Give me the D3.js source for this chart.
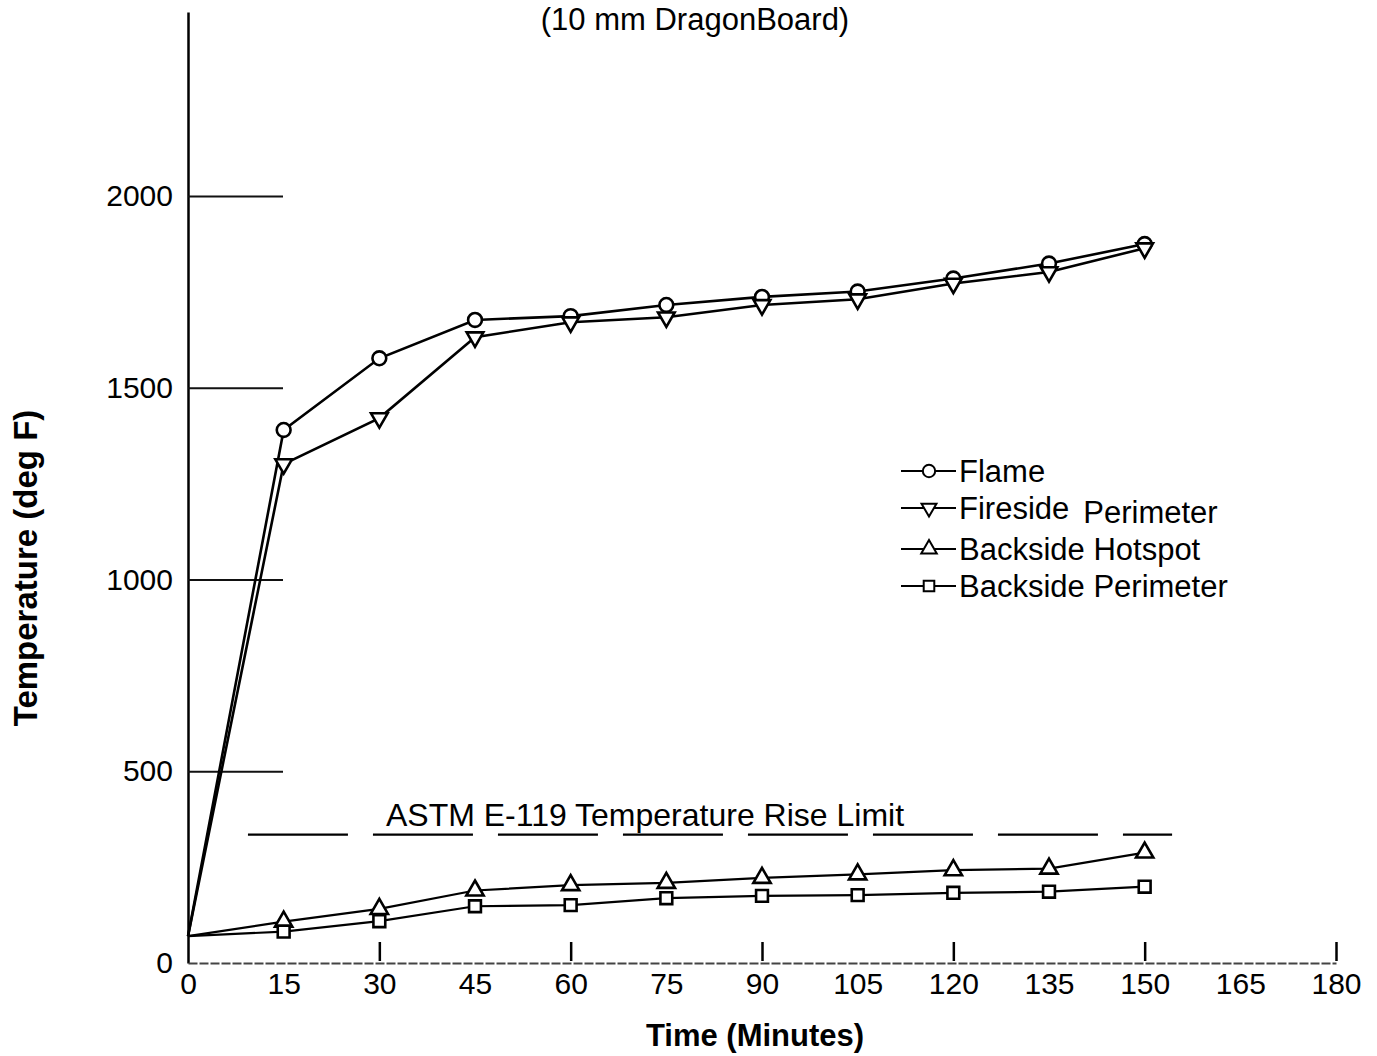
<!DOCTYPE html>
<html>
<head>
<meta charset="utf-8">
<script src="https://cdn.jsdelivr.net/npm/d3@7"></script>
<style>
  body { margin: 0; background: #fff; }
  svg { display: block; font-family: "Liberation Sans", Arial, sans-serif; }
</style>
</head>
<body>
<div id="chart"></div>
<script>
var times = [0, 15, 30, 45, 60, 75, 90, 105, 120, 135, 150];
var flame = [70, 1390, 1577, 1677, 1687, 1716, 1737, 1751, 1785, 1824, 1875];
var firesidePerimeter = [70, 1301, 1421, 1632, 1671, 1684, 1716, 1731, 1772, 1802, 1864];
var backsideHotspot = [70, 108, 141, 189, 203, 209, 222, 231, 242, 246, 288];
var backsidePerimeter = [70, 82, 109, 148, 151, 169, 175, 177, 183, 186, 199];
var seriesNames = ["Flame", "Fireside", "Backside Hotspot", "Backside Perimeter"];

var xTicks = [0, 15, 30, 45, 60, 75, 90, 105, 120, 135, 150, 165, 180];
var xMajorTicks = [30, 60, 90, 120, 150, 180];
var yTicks = [0, 500, 1000, 1500, 2000];

var astmLimit = 335;
var astmStart = 9.4, astmEnd = 154.3;

var width = 1377,
    height = 1056;

var x = d3.scaleLinear().domain([0, 180]).range([188, 1336]);
var y = d3.scaleLinear().domain([0, 2480]).range([963, 12]);

var svg = d3.select("#chart")
   .append("svg")
   .attr("width", width)
   .attr("height", height);

// title (its upper line is off the page in the original)
svg.append("text")
   .attr("x", 695)
   .attr("y", 30)
   .attr("text-anchor", "middle")
   .attr("font-size", 31)
   .text("(10 mm DragonBoard)");

// y axis
var yAxis = d3.axisLeft(y)
   .tickValues(yTicks)
   .tickFormat(d3.format("d"))
   .tickSizeInner(-95)
   .tickSizeOuter(0)
   .tickPadding(15);

var gy = svg.append("g")
   .attr("transform", "translate(" + x(0) + ",0)")
   .call(yAxis);
gy.select(".domain").attr("stroke", "#000").attr("stroke-width", 2.5);
gy.selectAll(".tick line")
   .attr("stroke", "#111")
   .attr("stroke-width", 2)
   .attr("visibility", function(d) { return d === 0 ? "hidden" : null; });
gy.selectAll(".tick text")
   .attr("font-size", 30)
   .attr("font-family", "Liberation Sans, Arial, sans-serif")
   .attr("fill", "#000");

// x axis: labels every 15, upward ticks every 30
var xAxis = d3.axisBottom(x)
   .tickValues(xTicks)
   .tickSize(0)
   .tickPadding(10);

var gx = svg.append("g")
   .attr("transform", "translate(0," + y(0) + ")")
   .call(xAxis);
gx.select(".domain").attr("stroke", "#444").attr("stroke-width", 1.8).attr("stroke-dasharray", "9,2");
gx.selectAll(".tick text")
   .attr("font-size", 30)
   .attr("font-family", "Liberation Sans, Arial, sans-serif")
   .attr("fill", "#000");

svg.append("g")
   .attr("transform", "translate(0," + (y(0) - 2) + ")")
   .call(d3.axisBottom(x).tickValues(xMajorTicks).tickSize(-19).tickFormat(""))
   .call(function(g) {
      g.select(".domain").remove();
      g.selectAll(".tick line").attr("stroke", "#000").attr("stroke-width", 2.5);
   });

// axis titles
svg.append("text")
   .attr("x", 755)
   .attr("y", 1046)
   .attr("text-anchor", "middle")
   .attr("font-size", 31)
   .attr("font-weight", "bold")
   .text("Time (Minutes)");

svg.append("text")
   .attr("transform", "translate(37,568) rotate(-90)")
   .attr("text-anchor", "middle")
   .attr("font-size", 33)
   .attr("font-weight", "bold")
   .text("Temperature (deg F)");

// ASTM limit
svg.append("line")
   .attr("x1", x(astmStart))
   .attr("x2", x(astmEnd))
   .attr("y1", y(astmLimit))
   .attr("y2", y(astmLimit))
   .attr("stroke", "#000")
   .attr("stroke-width", 2.2)
   .attr("stroke-dasharray", "100,25");

svg.append("text")
   .attr("x", 645)
   .attr("y", 826)
   .attr("text-anchor", "middle")
   .attr("font-size", 32)
   .text("ASTM E-119 Temperature Rise Limit");

// series
var series = [
   { name: seriesNames[0], values: flame, symbol: d3.symbolCircle, size: 150, rotate: 0 },
   { name: seriesNames[1], values: firesidePerimeter, symbol: d3.symbolTriangle, size: 120, rotate: 180 },
   { name: seriesNames[2], values: backsideHotspot, symbol: d3.symbolTriangle, size: 130, rotate: 0 },
   { name: seriesNames[3], values: backsidePerimeter, symbol: d3.symbolSquare, size: 140, rotate: 0 }
];

var line = d3.line()
   .x(function(d, i) { return x(times[i]); })
   .y(function(d) { return y(d); });

var sg = svg.selectAll("g.series")
   .data(series)
   .enter()
   .append("g")
   .attr("class", "series");

sg.append("path")
   .attr("d", function(s) { return line(s.values); })
   .attr("fill", "none")
   .attr("stroke", "#000")
   .attr("stroke-width", function(s, i) { return i < 2 ? 2.6 : 2.2; });

sg.each(function(s) {
   d3.select(this).selectAll("path.mark")
      .data(s.values.slice(1))
      .enter()
      .append("path")
      .attr("class", "mark")
      .attr("d", d3.symbol().type(s.symbol).size(s.size))
      .attr("transform", function(d, i) {
         return "translate(" + x(times[i + 1]) + "," + y(d) + ") rotate(" + s.rotate + ")";
      })
      .attr("fill", "#fff")
      .attr("stroke", "#000")
      .attr("stroke-width", 2.6);
});

// legend
var legend = svg.selectAll("g.legend")
   .data(series)
   .enter()
   .append("g")
   .attr("class", "legend")
   .attr("transform", function(d, i) {
      return "translate(0," + (471 + i * 37 + (i > 1 ? 4 : 0)) + ")";
   });

legend.append("line")
   .attr("x1", 901)
   .attr("x2", 956)
   .attr("stroke", "#000")
   .attr("stroke-width", 1.8);

legend.append("path")
   .attr("d", function(s) { return d3.symbol().type(s.symbol).size(s.size * 0.8)(); })
   .attr("transform", function(s) { return "translate(929,0) rotate(" + s.rotate + ")"; })
   .attr("fill", "#fff")
   .attr("stroke", "#000")
   .attr("stroke-width", 2);

var lt = legend.append("text")
   .attr("x", 959)
   .attr("dy", "0.36em")
   .attr("font-size", 31)
   .text(function(s) { return s.name; });

lt.filter(function(s, i) { return i === 1; })
   .append("tspan")
   .attr("dx", 14)
   .attr("dy", 4)
   .text("Perimeter");
</script>
</body>
</html>
